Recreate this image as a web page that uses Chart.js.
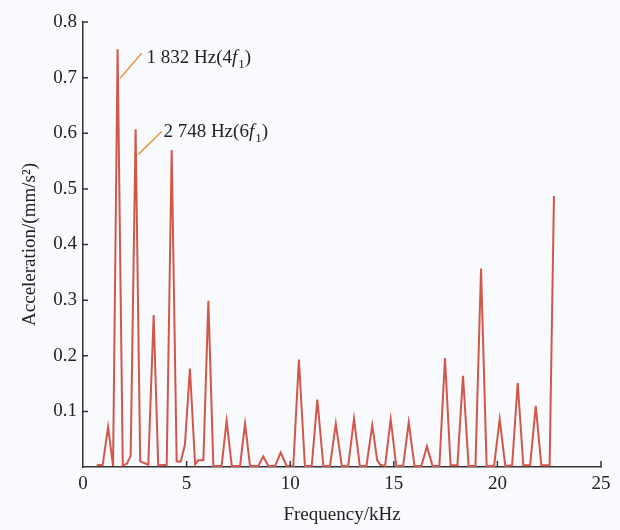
<!DOCTYPE html>
<html>
<head>
<meta charset="utf-8">
<script src="https://cdn.jsdelivr.net/npm/chart.js@4.4.1/dist/chart.umd.min.js"></script>
<style>
  html, body { margin: 0; padding: 0; background: #f8fafd; }
  #wrap { width: 620px; height: 530px; }
</style>
</head>
<body>
<div id="wrap"><canvas id="c" width="620" height="530"></canvas></div>
<script>
// ---- data ----
const freqKHz = [0.66, 0.95, 1.21, 1.45, 1.67, 1.92, 2.12, 2.30, 2.54, 2.76,
  3.15, 3.41, 3.63, 4.04, 4.28, 4.52, 4.72, 4.92, 5.16, 5.41,
  5.56, 5.81, 6.05, 6.29, 6.69, 6.93, 7.18, 7.58, 7.82, 8.06,
  8.46, 8.70, 8.94, 9.27, 9.54, 9.83, 10.15, 10.42, 10.71, 11.04,
  11.31, 11.60, 11.92, 12.20, 12.49, 12.80, 13.08, 13.36, 13.68, 13.96,
  14.20, 14.35, 14.58, 14.85, 15.12, 15.45, 15.72, 16.00, 16.33, 16.60,
  16.87, 17.20, 17.47, 17.74, 18.07, 18.34, 18.61, 18.94, 19.21, 19.48,
  19.84, 20.11, 20.38, 20.71, 20.98, 21.25, 21.58, 21.85, 22.12, 22.52, 22.73];
const acceleration = [0.003, 0.004, 0.072, 0.002, 0.751, 0.003, 0.006, 0.020, 0.607, 0.010,
  0.004, 0.273, 0.003, 0.004, 0.570, 0.010, 0.010, 0.040, 0.177, 0.005,
  0.012, 0.012, 0.299, 0.002, 0.002, 0.083, 0.002, 0.002, 0.078, 0.002,
  0.002, 0.019, 0.002, 0.002, 0.026, 0.002, 0.002, 0.193, 0.002, 0.002,
  0.121, 0.002, 0.002, 0.078, 0.002, 0.002, 0.087, 0.002, 0.002, 0.075,
  0.012, 0.004, 0.002, 0.086, 0.002, 0.002, 0.080, 0.002, 0.002, 0.037,
  0.002, 0.002, 0.196, 0.003, 0.003, 0.164, 0.002, 0.002, 0.357, 0.002,
  0.002, 0.086, 0.002, 0.003, 0.151, 0.003, 0.003, 0.110, 0.003, 0.003, 0.487];

const xTicks = [0, 5, 10, 15, 20, 25];
const yTicks = [0.1, 0.2, 0.3, 0.4, 0.5, 0.6, 0.7, 0.8];

const xTitle = 'Frequency/kHz';
const yTitle = 'Acceleration/(mm/s²)';

// annotations: leader line from -> to (data units), label anchor (data units)
const annoLabels = [
  [['1 832 Hz(4', 'n'], ['f', 'i'], ['1', 's'], [')', 'n']],
  [['2 748 Hz(6', 'n'], ['f', 'i'], ['1', 's'], [')', 'n']]
];
const annoFrom = [[1.79, 0.699], [2.67, 0.562]];
const annoTo = [[2.83, 0.744], [3.80, 0.603]];
const annoText = [[3.07, 0.726], [3.88, 0.594]];

// ---- styling ----
const FONT = "'Liberation Serif', 'Times New Roman', serif";
const TXT = '#222222';
const AXIS = '#333333';

const points = freqKHz.map((f, i) => ({ x: f, y: acceleration[i] }));

const bgPlugin = {
  id: 'bg',
  beforeDraw(chart) {
    const ctx = chart.ctx;
    ctx.save();
    ctx.fillStyle = '#f8fafd';
    ctx.fillRect(0, 0, chart.width, chart.height);
    ctx.restore();
  }
};

const ticksPlugin = {
  id: 'innerTicks',
  afterDraw(chart) {
    const ctx = chart.ctx;
    const xs = chart.scales.x, ys = chart.scales.y;
    const x0 = xs.getPixelForValue(0);
    const y0 = ys.getPixelForValue(0);
    ctx.save();
    ctx.strokeStyle = AXIS;
    ctx.lineWidth = 1.5;
    ctx.beginPath();
    yTicks.forEach(v => {
      const py = ys.getPixelForValue(v);
      ctx.moveTo(x0, py); ctx.lineTo(x0 + 5, py);
    });
    xTicks.forEach(v => {
      if (v === 0) return;
      const px = xs.getPixelForValue(v);
      ctx.moveTo(px, y0); ctx.lineTo(px, y0 - 6);
    });
    ctx.stroke();
    ctx.restore();
  }
};

const annoPlugin = {
  id: 'anno',
  afterDatasetsDraw(chart) {
    const ctx = chart.ctx;
    const xs = chart.scales.x, ys = chart.scales.y;
    ctx.save();
    annoLabels.forEach((segs, i) => {
      ctx.strokeStyle = '#e8983e';
      ctx.lineWidth = 1.5;
      ctx.beginPath();
      ctx.moveTo(xs.getPixelForValue(annoFrom[i][0]), ys.getPixelForValue(annoFrom[i][1]));
      ctx.lineTo(xs.getPixelForValue(annoTo[i][0]), ys.getPixelForValue(annoTo[i][1]));
      ctx.stroke();
      let px = xs.getPixelForValue(annoText[i][0]);
      const py = ys.getPixelForValue(annoText[i][1]);
      ctx.fillStyle = TXT;
      ctx.textBaseline = 'alphabetic';
      ctx.textAlign = 'left';
      segs.forEach(([t, kind]) => {
        let dy = 0;
        if (kind === 'i') ctx.font = 'italic 19px ' + FONT;
        else if (kind === 's') { ctx.font = '13px ' + FONT; dy = 5; }
        else ctx.font = '19px ' + FONT;
        ctx.fillText(t, px, py + dy);
        px += ctx.measureText(t).width + (kind === 'i' ? 1 : 0);
      });
    });
    ctx.restore();
  }
};

new Chart(document.getElementById('c'), {
  type: 'line',
  data: {
    datasets: [{
      data: points,
      borderColor: '#d2574a',
      borderWidth: 2,
      pointRadius: 0,
      tension: 0,
      fill: false
    }]
  },
  options: {
    responsive: false,
    animation: false,
    layout: { padding: { left: 10, right: 19, top: 22, bottom: 0 } },
    plugins: { legend: { display: false }, tooltip: { enabled: false } },
    scales: {
      x: {
        type: 'linear',
        min: 0, max: 25,
        grid: { display: false, drawTicks: false },
        border: { display: true, color: AXIS, width: 1.5 },
        afterBuildTicks(scale) { scale.ticks = xTicks.map(v => ({ value: v })); },
        ticks: {
          color: TXT, padding: 6,
          font: { family: FONT, size: 19 },
          maxRotation: 0,
          callback: v => String(v)
        },
        title: {
          display: true, text: xTitle, color: TXT,
          font: { family: FONT, size: 19 },
          padding: { top: 0, bottom: 4 }
        },
        afterFit(scale) { scale.height = 63; }
      },
      y: {
        type: 'linear',
        min: 0, max: 0.8,
        grid: { display: false, drawTicks: false },
        border: { display: true, color: AXIS, width: 1.5 },
        afterBuildTicks(scale) { scale.ticks = yTicks.map(v => ({ value: v })); },
        ticks: {
          color: TXT, padding: 6,
          font: { family: FONT, size: 19 },
          callback: v => v.toFixed(1)
        },
        title: {
          display: true, text: yTitle, color: TXT,
          font: { family: FONT, size: 19 },
          padding: { top: 9, bottom: 0 }
        },
        afterFit(scale) { scale.width = 73; }
      }
    }
  },
  plugins: [bgPlugin, ticksPlugin, annoPlugin]
});
</script>
</body>
</html>
